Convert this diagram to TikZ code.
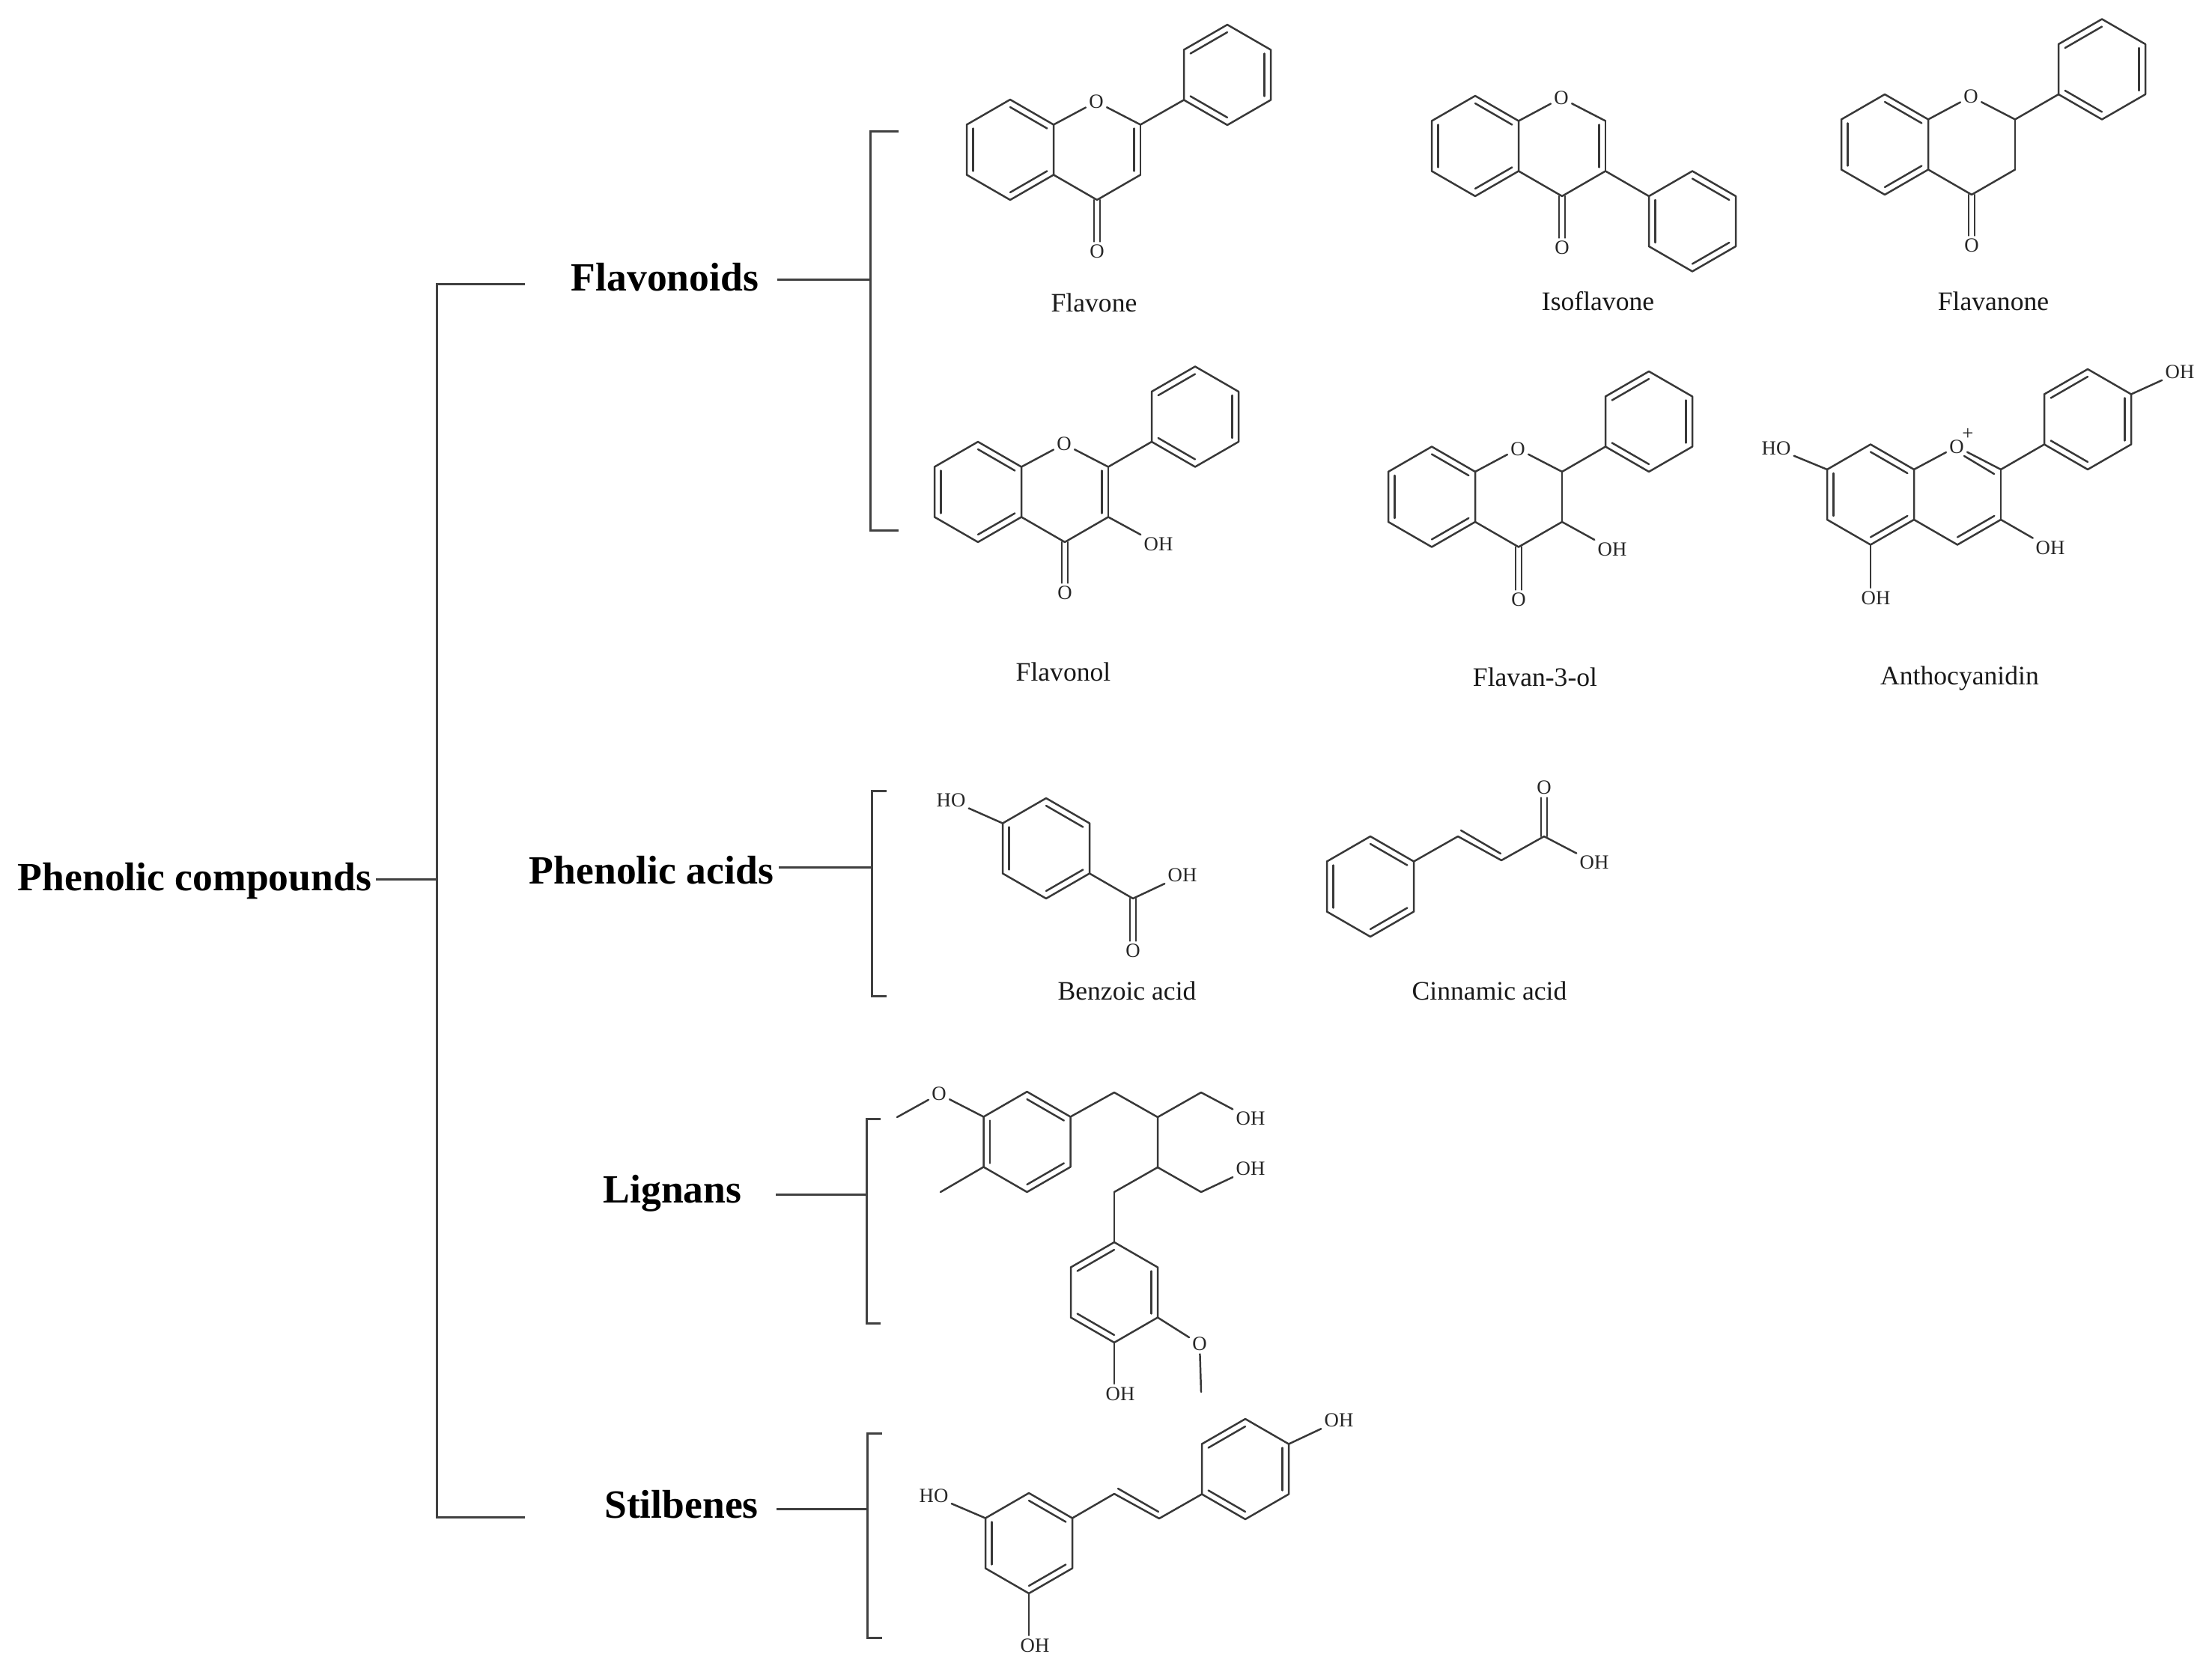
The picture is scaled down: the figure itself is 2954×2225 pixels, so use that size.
\documentclass[tikz,border=0pt]{standalone}
\usepackage{fontspec}
\setmainfont{Liberation Serif}
\usetikzlibrary{calc}
\tikzset{
  bond/.style={draw=black!78,line width=0.62pt,line cap=round,line join=round},
  brk/.style={draw=black!75,line width=0.75pt,line join=miter},
  atom/.style={inner sep=0.9pt,font=\fontsize{6.7}{7}\selectfont,text=black!85},
  cname/.style={inner sep=0pt,font=\fontsize{8.9}{10}\selectfont,text=black!90},
  cls/.style={inner sep=0pt,font=\bfseries\fontsize{13.4}{15}\selectfont,text=black}
}
% pointy-top hexagon: #1c centre, #11 top, then clockwise
\newcommand{\hexat}[3]{%
  \coordinate (#1c) at (#2,#3);
  \coordinate (#11) at ($(#1c)+(0,-67)$);
  \coordinate (#12) at ($(#1c)+(58,-33.5)$);
  \coordinate (#13) at ($(#1c)+(58,33.5)$);
  \coordinate (#14) at ($(#1c)+(0,67)$);
  \coordinate (#15) at ($(#1c)+(-58,33.5)$);
  \coordinate (#16) at ($(#1c)+(-58,-33.5)$);
}
\newcommand{\hexline}[1]{\draw[bond] (#11)--(#12)--(#13)--(#14)--(#15)--(#16)--cycle;}
% inner line of a double bond, drawn towards centre #3
\newcommand{\rd}[3]{\draw[bond] ($(#1)!.15!(#3)$)--($(#2)!.15!(#3)$);}
% ring with inner lines on bonds 12,34,56
\newcommand{\kekA}[1]{\hexline{#1}\rd{#11}{#12}{#1c}\rd{#13}{#14}{#1c}\rd{#15}{#16}{#1c}}
% ring with inner lines on bonds 23,45,61
\newcommand{\kekB}[1]{\hexline{#1}\rd{#12}{#13}{#1c}\rd{#14}{#15}{#1c}\rd{#16}{#11}{#1c}}
\newcommand{\bd}[2]{\draw[bond] (#1)--(#2);}
% vertical C=O
\newcommand{\vdbl}[2]{%
  \draw[bond,transform canvas={xshift=-1pt}] (#1)--(#2);
  \draw[bond,transform canvas={xshift=1pt}] (#1)--(#2);}
% chromone-type skeleton: #1 name, A ring centre #2,#3 ; B ring shares edge
\newcommand{\pyran}[4]{% #1 name, #2 x,#3 y of A centre, #4 x of B centre
  \hexat{#1a}{#2}{#3}
  \hexat{#1b}{#4}{#3}
  \kekA{#1a}
  \node[atom] (#1O) at ($(#1b1)+(-1,3)$) {O};
  \bd{#1a2}{#1O}
  \bd{#1O}{#1b2}
  \bd{#1b2}{#1b3}
  \bd{#1b3}{#1b4}
  \bd{#1b4}{#1a3}
}
\begin{document}
\begin{tikzpicture}[x=0.25pt,y=-0.25pt]
\useasboundingbox (0,0) rectangle (2954,2225);
\fill[white] (0,0) rectangle (2954,2225);

%% classification
\node[cls,anchor=center] (root) at (260,1177) {Phenolic compounds};
\node[cls] (flv) at (888,370) {Flavonoids};
\node[cls] (pha) at (870,1162) {Phenolic acids};
\node[cls] (lig) at (898,1594) {Lignans};
\node[cls] (sti) at (910,2009) {Stilbenes};

\coordinate (rootS) at (502,1174);
\coordinate (rootJ) at (583,1174);
\coordinate (mT) at (583,380);
\coordinate (mB) at (583,2026);
\coordinate (mTe) at (701,380);
\coordinate (mBe) at (701,2026);
\draw[brk] (mTe)--(mT)--(mB)--(mBe);
\draw[brk] (rootS)--(rootJ);

\coordinate (flvS) at (1038,374);
\coordinate (flvJ) at (1162,374);
\coordinate (flvT) at (1162,176);
\coordinate (flvB) at (1162,708);
\coordinate (flvTe) at (1200,176);
\coordinate (flvBe) at (1200,708);
\draw[brk] (flvTe)--(flvT)--(flvB)--(flvBe);
\draw[brk] (flvS)--(flvJ);

\coordinate (phaS) at (1040,1158);
\coordinate (phaJ) at (1164,1158);
\coordinate (phaT) at (1164,1056);
\coordinate (phaB) at (1164,1330);
\coordinate (phaTe) at (1184,1056);
\coordinate (phaBe) at (1184,1330);
\draw[brk] (phaTe)--(phaT)--(phaB)--(phaBe);
\draw[brk] (phaS)--(phaJ);

\coordinate (ligS) at (1036,1595);
\coordinate (ligJ) at (1157,1595);
\coordinate (ligT) at (1157,1494);
\coordinate (ligB) at (1157,1767);
\coordinate (ligTe) at (1176,1494);
\coordinate (ligBe) at (1176,1767);
\draw[brk] (ligTe)--(ligT)--(ligB)--(ligBe);
\draw[brk] (ligS)--(ligJ);

\coordinate (stiS) at (1037,2015);
\coordinate (stiJ) at (1158,2015);
\coordinate (stiT) at (1158,1914);
\coordinate (stiB) at (1158,2187);
\coordinate (stiTe) at (1178,1914);
\coordinate (stiBe) at (1178,2187);
\draw[brk] (stiTe)--(stiT)--(stiB)--(stiBe);
\draw[brk] (stiS)--(stiJ);

%% Flavone
\pyran{fa}{1349}{200}{1465}
\rd{fab2}{fab3}{fabc}
\hexat{fap}{1639}{100}\kekB{fap}
\bd{fab2}{fap5}
\node[atom] (faX) at (1465,336) {O};
\vdbl{fab4}{faX}
\node[cname] (faN) at (1461,404) {Flavone};

%% Isoflavone
\pyran{fb}{1970}{195}{2086}
\rd{fbb2}{fbb3}{fbbc}
\hexat{fbp}{2260}{295.5}\kekA{fbp}
\bd{fbb3}{fbp6}
\node[atom] (fbX) at (2086,331) {O};
\vdbl{fbb4}{fbX}
\node[cname] (fbN) at (2134,402) {Isoflavone};

%% Flavanone
\pyran{fc}{2517}{193}{2633}
\hexat{fcp}{2807}{92.5}\kekB{fcp}
\bd{fcb2}{fcp5}
\node[atom] (fcX) at (2633,328) {O};
\vdbl{fcb4}{fcX}
\node[cname] (fcN) at (2662,402) {Flavanone};

%% Flavonol
\pyran{fd}{1306}{657}{1422}
\rd{fdb2}{fdb3}{fdbc}
\hexat{fdp}{1596}{556.5}\kekB{fdp}
\bd{fdb2}{fdp5}
\node[atom] (fdX) at (1422,792) {O};
\vdbl{fdb4}{fdX}
\node[atom] (fdH) at (1547,727) {OH};
\bd{fdb3}{fdH}
\node[cname] (fdN) at (1420,897) {Flavonol};

%% Flavan-3-ol
\pyran{fe}{1912}{663.5}{2028}
\hexat{fep}{2202}{563}\kekB{fep}
\bd{feb2}{fep5}
\node[atom] (feX) at (2028,801) {O};
\vdbl{feb4}{feX}
\node[atom] (feH) at (2153,734) {OH};
\bd{feb3}{feH}
\node[cname] (feN) at (2050,904) {Flavan-3-ol};

%% Anthocyanidin
\pyran{fg}{2498}{660.5}{2614}
\rd{fgb3}{fgb4}{fgbc}
\coordinate (fgi1) at (2623,609);
\coordinate (fgi2) at (2663,633);
\draw[bond] (fgi1)--(fgi2);
\hexat{fgp}{2788}{560}\kekB{fgp}
\bd{fgb2}{fgp5}
\node[atom,inner sep=0pt] (fgPl) at (2628,580) {+};
\node[atom] (fgH1) at (2911,497) {OH};
\bd{fgp2}{fgH1}
\node[atom] (fgH2) at (2372,599) {HO};
\bd{fga6}{fgH2}
\node[atom] (fgH3) at (2505,799) {OH};
\coordinate (fgH3e) at (2498,785);
\bd{fga4}{fgH3e}
\node[atom] (fgH4) at (2738,732) {OH};
\bd{fgb3}{fgH4}
\node[cname] (fgN) at (2617,906) {Anthocyanidin};

%% Benzoic acid
\hexat{ba}{1397}{1133}\kekA{ba}
\node[atom] (baHO) at (1270,1069) {HO};
\bd{ba6}{baHO}
\coordinate (baC) at (1513,1200);
\bd{ba3}{baC}
\node[atom] (baOH) at (1579,1169) {OH};
\bd{baC}{baOH}
\node[atom] (baO) at (1513,1270) {O};
\vdbl{baC}{baO}
\node[cname] (baN) at (1505,1323) {Benzoic acid};

%% Cinnamic acid
\hexat{ca}{1830}{1184}\kekA{ca}
\coordinate (cav1) at (1947,1117);
\coordinate (cav2) at (2005,1149);
\coordinate (caC) at (2062,1117);
\coordinate (cai1) at (1951,1109);
\coordinate (cai2) at (2004,1140);
\bd{ca2}{cav1}
\bd{cav1}{cav2}
\bd{cai1}{cai2}
\bd{cav2}{caC}
\node[atom] (caO) at (2062,1052) {O};
\vdbl{caC}{caO}
\node[atom] (caOH) at (2129,1152) {OH};
\bd{caC}{caOH}
\node[cname] (caN) at (1989,1323) {Cinnamic acid};

%% Lignan
\hexat{la}{1371.5}{1525}\kekA{la}
\node[atom] (laO) at (1254,1461) {O};
\coordinate (laMe) at (1198,1492);
\bd{la6}{laO}
\bd{laO}{laMe}
\coordinate (laSt) at (1256,1592);
\bd{la5}{laSt}
\coordinate (lc1) at (1488,1459);
\coordinate (lc2) at (1546,1492);
\coordinate (lc3) at (1604,1459);
\node[atom] (lOH1) at (1670,1494) {OH};
\coordinate (lc4) at (1546,1559);
\coordinate (lc5) at (1604,1592);
\node[atom] (lOH2) at (1670,1561) {OH};
\coordinate (lc6) at (1488,1592);
\draw[bond] (la2)--(lc1)--(lc2)--(lc3);
\bd{lc3}{lOH1}
\draw[bond] (lc2)--(lc4)--(lc5);
\bd{lc5}{lOH2}
\draw[bond] (lc4)--(lc6);
\hexat{lb}{1488}{1726}\kekB{lb}
\bd{lc6}{lb1}
\node[atom] (lbO) at (1602,1795) {O};
\coordinate (lbMe) at (1604,1859);
\bd{lb3}{lbO}
\bd{lbO}{lbMe}
\node[atom] (lbOH) at (1496,1862) {OH};
\coordinate (lbOHe) at (1488,1848);
\bd{lb4}{lbOHe}

%% Stilbene
\hexat{sa}{1374}{2061}\kekA{sa}
\hexat{sb}{1663}{1962}\kekB{sb}
\node[atom] (saHO) at (1247,1998) {HO};
\bd{sa6}{saHO}
\node[atom] (saOH) at (1382,2198) {OH};
\coordinate (saOHe) at (1374,2184);
\bd{sa4}{saOHe}
\coordinate (sv1) at (1488,1995);
\coordinate (sv2) at (1548,2028);
\coordinate (svi1) at (1493,1988);
\coordinate (svi2) at (1547,2019);
\bd{sa2}{sv1}
\bd{sv1}{sv2}
\bd{svi1}{svi2}
\bd{sv2}{sb5}
\node[atom] (sbOH) at (1788,1897) {OH};
\bd{sb2}{sbOH}
\end{tikzpicture}
\end{document}
